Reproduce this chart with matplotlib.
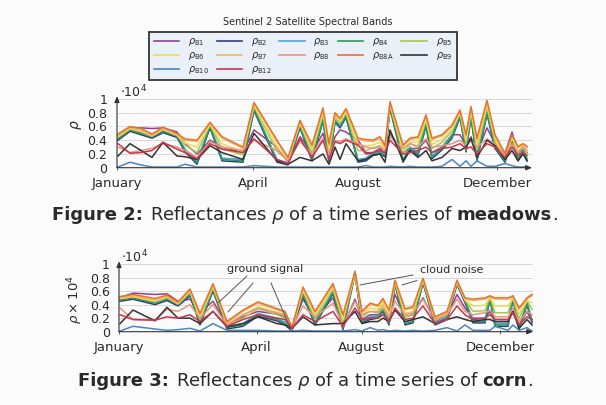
import matplotlib
matplotlib.use("Agg")
import matplotlib.pyplot as plt
from matplotlib.lines import Line2D

# ---------------- data (reflectance, in units of 10^4) ----------------
bands = ["B1", "B2", "B3", "B4", "B5", "B6", "B7", "B8", "B8A", "B9", "B10", "B12"]

# meadows: observation positions
x_meadows = [1, 13, 24, 35, 46, 60, 68, 80, 93, 105, 126, 137, 160, 171, 183,
             195, 206, 212, 218, 223, 229, 241, 249, 256, 263, 268, 273, 286, 293, 301,
             309, 315, 325, 335, 343, 349, 354, 360, 370, 378, 388, 395, 401, 406, 410]
m_B1 = [.47, .58, .58, .57, .58, .52, .35, .20, .40, .30, .22, .55, .30, .08, .45,
        .22, .50, .15, .45, .55, .52, .40, .22, .22, .28, .20, .50, .22, .28, .28,
        .40, .22, .30, .48, .48, .32, .45, .22, .58, .35, .20, .52, .20, .28, .22]
m_B2 = [.40, .53, .48, .43, .51, .44, .23, .05, .58, .10, .08, .83, .08, .04, .58,
        .10, .68, .08, .66, .58, .73, .08, .10, .18, .20, .16, .86, .08, .26, .18,
        .60, .13, .26, .43, .73, .23, .73, .10, .78, .28, .08, .38, .10, .23, .10]
m_B3 = [.44, .57, .52, .47, .55, .48, .27, .09, .62, .14, .12, .87, .12, .07, .62,
        .14, .72, .12, .70, .62, .77, .12, .14, .22, .24, .20, .90, .12, .30, .22,
        .64, .17, .30, .47, .77, .27, .77, .14, .82, .32, .12, .42, .14, .27, .14]
m_B4 = [.42, .55, .50, .45, .53, .46, .25, .07, .60, .12, .10, .85, .10, .05, .60,
        .12, .70, .10, .68, .60, .75, .10, .12, .20, .22, .18, .88, .10, .28, .20,
        .62, .15, .28, .45, .75, .25, .75, .12, .80, .30, .10, .40, .12, .25, .12]
m_B5 = [.45, .57, .53, .47, .56, .48, .33, .22, .63, .27, .19, .90, .24, .10, .64,
        .21, .78, .21, .73, .65, .80, .25, .25, .29, .32, .24, .92, .20, .35, .31,
        .69, .28, .37, .53, .79, .35, .81, .26, .88, .38, .15, .44, .21, .30, .21]
m_B6 = [.45, .57, .53, .46, .56, .47, .36, .30, .63, .35, .23, .90, .31, .11, .65,
        .26, .81, .27, .75, .67, .81, .33, .32, .33, .37, .27, .92, .25, .37, .37,
        .71, .34, .41, .56, .80, .40, .84, .33, .92, .42, .16, .44, .24, .31, .24]
m_B7 = [.47, .58, .55, .47, .57, .48, .40, .38, .64, .43, .28, .93, .38, .13, .67,
        .31, .85, .33, .78, .70, .84, .41, .39, .38, .43, .30, .94, .31, .41, .43,
        .75, .41, .46, .60, .82, .46, .87, .41, .96, .46, .19, .46, .29, .33, .29]
m_B8 = [.30, .22, .25, .28, .35, .30, .25, .15, .38, .30, .25, .40, .25, .10, .38,
        .20, .42, .18, .40, .38, .42, .35, .30, .28, .30, .25, .45, .28, .35, .30,
        .42, .30, .32, .35, .40, .32, .40, .30, .42, .35, .18, .35, .22, .30, .25]
m_B8A = [.49, .60, .57, .49, .59, .50, .42, .40, .66, .45, .30, .95, .40, .15, .69,
         .33, .87, .35, .80, .72, .86, .43, .41, .40, .45, .32, .96, .33, .43, .45,
         .77, .43, .48, .62, .84, .48, .89, .43, .98, .48, .21, .48, .31, .35, .31]
m_B9 = [.17, .35, .25, .15, .37, .17, .16, .12, .32, .22, .12, .50, .10, .05, .15,
        .10, .20, .05, .30, .12, .35, .10, .12, .18, .20, .08, .55, .10, .25, .15,
        .25, .10, .15, .28, .25, .30, .42, .15, .40, .32, .12, .25, .10, .20, .10]
m_B10 = [.01, .08, .04, .01, .01, .01, .05, .01, .01, .01, .01, .03, .01, .01, .01,
         .01, .01, .01, .01, .01, .01, .01, .03, .01, .01, .01, .02, .01, .02, .01,
         .01, .01, .02, .12, .02, .10, .02, .10, .02, .02, .06, .03, .01, .01, .01]
m_B12 = [.35, .21, .22, .25, .37, .27, .22, .13, .35, .27, .22, .42, .12, .06, .42,
         .15, .40, .12, .38, .35, .40, .33, .20, .22, .25, .22, .40, .20, .22, .25,
         .30, .22, .28, .30, .35, .28, .30, .20, .35, .30, .15, .30, .18, .22, .18]

# corn: observation positions
x_corn = [1, 14, 36, 48, 59, 71, 81, 94, 108, 124, 139, 158, 166, 173, 184,
          196, 214, 224, 236, 243, 251, 259, 264, 270, 276, 286, 294, 304, 316, 328,
          338, 346, 354, 366, 371, 376, 389, 394, 400, 408, 413]
c_B1 = [.50, .57, .55, .56, .45, .48, .28, .45, .10, .22, .30, .26, .22, .06, .48,
        .20, .50, .08, .48, .18, .25, .25, .30, .18, .55, .22, .25, .50, .15, .22,
        .55, .35, .20, .20, .30, .15, .15, .30, .10, .30, .15]
c_B2 = [.45, .48, .40, .46, .38, .53, .10, .60, .04, .08, .23, .16, .10, .01, .53,
        .10, .56, .03, .85, .13, .18, .20, .30, .10, .70, .10, .13, .72, .10, .18,
        .70, .43, .13, .13, .48, .08, .08, .48, .03, .40, .13]
c_B3 = [.49, .52, .44, .50, .42, .57, .14, .64, .08, .12, .27, .20, .14, .05, .57,
        .14, .60, .07, .89, .17, .22, .24, .34, .14, .74, .14, .17, .76, .14, .22,
        .74, .47, .17, .17, .52, .12, .12, .52, .07, .44, .17]
c_B4 = [.47, .50, .42, .48, .40, .55, .12, .62, .06, .10, .25, .18, .12, .03, .55,
        .12, .58, .05, .87, .15, .20, .22, .32, .12, .72, .12, .15, .74, .12, .20,
        .72, .45, .15, .15, .50, .10, .10, .50, .05, .42, .15]
c_B5 = [.49, .52, .45, .51, .42, .59, .19, .66, .10, .20, .34, .25, .20, .05, .60,
        .20, .64, .14, .88, .22, .30, .30, .40, .21, .74, .22, .25, .76, .17, .25,
        .74, .47, .30, .31, .51, .28, .28, .51, .19, .46, .33]
c_B6 = [.49, .52, .45, .51, .41, .59, .21, .67, .11, .25, .37, .28, .24, .04, .61,
        .24, .66, .18, .86, .24, .35, .33, .43, .25, .73, .27, .30, .76, .18, .26,
        .73, .47, .38, .39, .50, .38, .38, .50, .26, .46, .43]
c_B7 = [.50, .53, .47, .52, .42, .61, .25, .69, .13, .30, .42, .32, .28, .05, .64,
        .28, .69, .23, .87, .28, .40, .37, .47, .30, .74, .32, .35, .77, .20, .28,
        .74, .48, .46, .48, .51, .48, .48, .51, .33, .48, .53]
c_B8 = [.35, .18, .17, .33, .30, .40, .20, .40, .10, .25, .35, .28, .25, .06, .38,
        .22, .42, .10, .45, .25, .30, .28, .35, .22, .45, .25, .28, .48, .18, .25,
        .48, .30, .25, .28, .32, .22, .22, .35, .15, .30, .25]
c_B8A = [.52, .55, .49, .54, .44, .63, .27, .71, .15, .32, .44, .34, .30, .07, .66,
         .30, .71, .25, .89, .30, .42, .39, .49, .32, .76, .34, .37, .79, .22, .30,
         .76, .50, .48, .50, .53, .50, .50, .53, .35, .50, .55]
c_B9 = [.12, .32, .16, .36, .20, .20, .12, .30, .07, .12, .22, .12, .10, .05, .22,
        .10, .12, .12, .30, .12, .15, .15, .20, .15, .32, .15, .18, .22, .12, .18,
        .22, .18, .15, .18, .18, .15, .15, .30, .05, .18, .10]
c_B10 = [.01, .08, .04, .02, .03, .05, .01, .12, .02, .02, .02, .01, .01, .01, .02,
         .01, .01, .01, .03, .01, .06, .02, .03, .01, .02, .01, .02, .01, .02, .06,
         .01, .10, .02, .02, .02, .08, .02, .10, .02, .06, .01]
c_B12 = [.25, .18, .17, .22, .20, .25, .15, .30, .08, .18, .25, .20, .18, .05, .25,
         .15, .30, .08, .35, .18, .20, .20, .25, .15, .35, .18, .20, .38, .12, .18,
         .38, .25, .18, .20, .25, .18, .18, .28, .10, .22, .18]

month_labels = ["January", "April", "August", "December"]
month_pos_meadows = [0, 136, 241, 380]
month_pos_corn = [0, 137.5, 242.5, 381]
ytick_vals = [0, 0.2, 0.4, 0.6, 0.8, 1.0]
ytick_labels = ["0", "0.2", "0.4", "0.6", "0.8", "1"]

meadows = [m_B1, m_B2, m_B3, m_B4, m_B5, m_B6, m_B7, m_B8, m_B8A, m_B9, m_B10, m_B12]
corn = [c_B1, c_B2, c_B3, c_B4, c_B5, c_B6, c_B7, c_B8, c_B8A, c_B9, c_B10, c_B12]

colors = {
    "B1": "#9b3d8f", "B2": "#2e3c80", "B3": "#4aa6dc", "B4": "#2f9a5a",
    "B5": "#a8c84c", "B6": "#f0d85a", "B7": "#f2b85a", "B8": "#e8957a",
    "B8A": "#e5722f", "B9": "#333333", "B10": "#4a86c2", "B12": "#c8364e",
}

# ---------------- figure ----------------
W, H = 606, 405
BG = "#fbfbfb"
TXT = "#2a2a2a"
plt.rcParams["font.family"] = ["DejaVu Sans"]
plt.rcParams["mathtext.fontset"] = "dejavusans"

fig = plt.figure(figsize=(W / 100, H / 100), dpi=100, facecolor=BG)


def fx(px):
    return px / W


def fy(py):
    return 1 - py / H


def make_axes(left_px, zero_py, xmax, px_per_unit, ymax=1.04):
    return fig.add_axes([fx(left_px), fy(zero_py), xmax / W, ymax * px_per_unit / H])


def draw_chart(ax, x, data, xmax, month_pos, ytick_pad):
    ax.set_facecolor("none")
    for band, vals in zip(bands, data):
        ax.plot(x, vals, color=colors[band], lw=1.1, solid_joinstyle="round")
    ax.set_xlim(0, xmax)
    ax.set_ylim(0, 1.04)
    ax.set_yticks(ytick_vals)
    ax.set_yticklabels(ytick_labels)
    ax.set_xticks(month_pos)
    ax.set_xticklabels(month_labels)
    ax.yaxis.grid(True, color="#d2d2d2", lw=0.6)
    ax.set_axisbelow(True)
    for s in ax.spines.values():
        s.set_visible(False)
    ax.tick_params(axis="y", length=0, pad=ytick_pad, labelsize=9, labelcolor=TXT)
    ax.tick_params(axis="x", length=3.5, width=0.6, direction="inout", color="#444",
                   pad=5, labelsize=9.5, labelcolor=TXT)
    arrow = dict(arrowstyle="-|>,head_length=0.35,head_width=0.15", color="#333", lw=0.8,
                 shrinkA=0, shrinkB=0)
    ax.annotate("", xy=(1.0, 0), xytext=(0, 0), xycoords="axes fraction",
                textcoords="axes fraction", arrowprops=arrow, annotation_clip=False)
    ax.annotate("", xy=(0, 1.0), xytext=(0, 0), xycoords="axes fraction",
                textcoords="axes fraction", arrowprops=arrow, annotation_clip=False)


ax1 = make_axes(117, 167.7, 415, 68.7)
draw_chart(ax1, x_meadows, meadows, 415, month_pos_meadows, 7)

ax2 = make_axes(119, 331.7, 414, 67.7)
draw_chart(ax2, x_corn, corn, 414, month_pos_corn, 6.5)

# exponent labels and y labels
fig.text(fx(120), fy(97), r"$\cdot 10^4$", fontsize=9, color=TXT, ha="left", va="baseline")
fig.text(fx(121), fy(262), r"$\cdot 10^4$", fontsize=9, color=TXT, ha="left", va="baseline")
fig.text(fx(76), fy(125), r"$\rho$", fontsize=10, color=TXT, rotation=90, ha="center", va="center")
fig.text(fx(75), fy(299), r"$\rho \times 10^4$", fontsize=9.5, color=TXT, rotation=90,
         ha="center", va="center")

# annotations on corn chart
line_kw = dict(arrowstyle="-", color="#555555", lw=0.7, shrinkA=0, shrinkB=0)
ax2.text(146, 0.926, "ground signal", fontsize=8, color=TXT, ha="center", va="center")
for start, end in [((128, 0.823), (99, 0.424)), ((134, 0.719), (109, 0.291)),
                   ((152, 0.719), (170, 0.099))]:
    ax2.annotate("", xy=end, xytext=start, arrowprops=line_kw, annotation_clip=False)
ax2.text(332.5, 0.911, "cloud noise", fontsize=8, color=TXT, ha="center", va="center")
for start, end in [((294, 0.838), (241, 0.690)), ((298, 0.756), (283, 0.690))]:
    ax2.annotate("", xy=end, xytext=start, arrowprops=line_kw, annotation_clip=False)

# legend
order = ["B1", "B6", "B10", "B2", "B7", "B12", "B3", "B8", "B4", "B8A", "B5", "B9"]
handles = [Line2D([], [], color=colors[b], lw=1.2) for b in order]
labels = [r"$\rho_{\mathrm{%s}}$" % b for b in order]
leg = fig.legend(handles, labels, loc="center", bbox_to_anchor=(fx(303), fy(56)), ncol=5,
                 fontsize=7, frameon=True, fancybox=False, edgecolor="#333333",
                 facecolor="#eaf0f8", framealpha=1, handlelength=2.6, handletextpad=0.9,
                 columnspacing=0.8, borderpad=0.45, labelspacing=0.2)
leg.get_frame().set_linewidth(1.3)
for t in leg.get_texts():
    t.set_color(TXT)
fig.text(fx(308), fy(22), "Sentinel 2 Satellite Spectral Bands", fontsize=7, color=TXT,
         ha="center", va="center")

# captions (bold / regular runs placed side by side); third field = gap after run
cap1_runs = [("Figure 2:", "bold", 1.3), (r"Reflectances $\rho$ of a time series of", "normal", 0.5),
             ("meadows", "bold", 0.0), (".", "normal", 0.0)]
cap2_runs = [("Figure 3:", "bold", 1.3), (r"Reflectances $\rho$ of a time series of", "normal", 0.5),
             ("corn", "bold", 0.0), (".", "normal", 0.0)]
renderer = fig.canvas.get_renderer()


def run_width(s, weight, size):
    t = fig.text(0, 0, s, fontsize=size, fontweight=weight)
    w = t.get_window_extent(renderer).width
    t.remove()
    return w


def layout(runs, size):
    space = run_width("a a", "normal", size) - run_width("aa", "normal", size)
    widths = [run_width(s, wt, size) for s, wt, _ in runs]
    gaps = [space * g for _, _, g in runs[:-1]]
    return widths, gaps, sum(widths) + sum(gaps)


def place(runs, cx, py, size):
    widths, gaps, total = layout(runs, size)
    x0 = cx - total / 2
    for i, (s, wt, _) in enumerate(runs):
        fig.text(fx(x0), fy(py), s, fontsize=size, fontweight=wt, color=TXT,
                 ha="left", va="baseline")
        x0 += widths[i] + (gaps[i] if i < len(gaps) else 0)


_, _, w_ref = layout(cap2_runs, 12)
cap_size = 12 * 455.0 / w_ref
place(cap1_runs, 305, 220, cap_size)
place(cap2_runs, 305, 386, cap_size)

fig.savefig("out.png", dpi=100, facecolor=BG)
